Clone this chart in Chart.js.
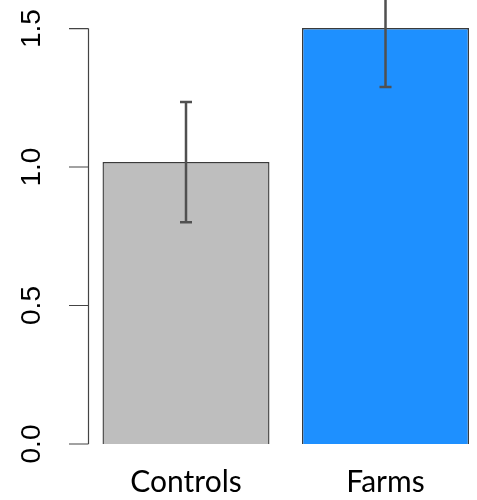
<!DOCTYPE html>
<html>
<head>
<meta charset="utf-8">
<script src="https://cdn.jsdelivr.net/npm/chart.js@4/dist/chart.umd.min.js"></script>
<style>
  html, body { margin: 0; padding: 0; background: #fff; }
  #wrap { width: 477px; height: 500px; }
</style>
</head>
<body>
<div id="wrap"><canvas id="barChart"></canvas></div>
<script>
// values
const categories = ["Controls", "Farms"];
const means = [1.018, 1.502];
const errLow = [0.801, 1.289];
const errHigh = [1.235, 1.715];
const yTicks = [0, 0.5, 1.0, 1.5];

// error bars (whiskers with caps)
const errorBars = {
    id: "errorBars",
    afterDatasetsDraw(chart) {
        const ctx = chart.ctx;
        const x = chart.scales.x;
        const y = chart.scales.y;
        ctx.save();
        ctx.strokeStyle = "#505050";
        ctx.lineWidth = 2.5;
        categories.forEach((c, i) => {
            let px = x.getPixelForValue(i + 1);
            let lo = y.getPixelForValue(errLow[i]);
            let hi = y.getPixelForValue(errHigh[i]);
            ctx.beginPath();
            ctx.moveTo(px, lo);
            ctx.lineTo(px, hi);
            ctx.moveTo(px - 6, lo);
            ctx.lineTo(px + 6, lo);
            ctx.moveTo(px - 6, hi);
            ctx.lineTo(px + 6, hi);
            ctx.stroke();
        });
        ctx.restore();
    }
};

// R-style left axis: line only over the tick range, rotated labels
const rAxis = {
    id: "rAxis",
    afterDraw(chart) {
        const ctx = chart.ctx;
        const y = chart.scales.y;
        const ax = 88.5;
        ctx.save();
        ctx.strokeStyle = "#444";
        ctx.lineWidth = 1.2;
        ctx.beginPath();
        ctx.moveTo(ax, y.getPixelForValue(yTicks[0]));
        ctx.lineTo(ax, y.getPixelForValue(yTicks[yTicks.length - 1]));
        yTicks.forEach(t => {
            let py = y.getPixelForValue(t);
            ctx.moveTo(69, py);
            ctx.lineTo(ax, py);
        });
        ctx.stroke();

        ctx.fillStyle = "#000";
        ctx.font = "28px 'Liberation Sans', Arial, sans-serif";
        ctx.textAlign = "center";
        ctx.textBaseline = "middle";
        yTicks.forEach(t => {
            let py = y.getPixelForValue(t);
            ctx.save();
            ctx.translate(32, py);
            ctx.rotate(-Math.PI / 2);
            ctx.fillText(t.toFixed(1), 0, 0);
            ctx.restore();
        });
        ctx.restore();
    }
};

new Chart(document.getElementById("barChart"), {
    type: "bar",
    data: {
        datasets: [{
            data: means.map((m, i) => ({ x: i + 1, y: m })),
            backgroundColor: ["#bebebe", "#1e90ff"],
            borderColor: "#3a3a3a",
            borderWidth: 1.4,
            barPercentage: 0.837,
            categoryPercentage: 1
        }]
    },
    options: {
        responsive: true,
        maintainAspectRatio: false,
        animation: false,
        layout: { padding: { left: 89, right: 0, top: 0, bottom: 0 } },
        plugins: {
            legend: { display: false },
            tooltip: { enabled: false }
        },
        scales: {
            x: {
                type: "linear",
                offset: false,
                min: 0.5138,
                max: 2.4586,
                grid: { display: false, drawTicks: false, offset: false },
                border: { display: false },
                afterBuildTicks: s => {
                    s.ticks = categories.map((c, i) => ({ value: i + 1 }));
                },
                afterFit: s => { s.height = 56; },
                ticks: {
                    padding: 20,
                    color: "#000",
                    font: { family: "Lato", size: 30 },
                    callback: v => categories[v - 1]
                }
            },
            y: {
                display: false,
                min: 0,
                max: 1.603
            }
        }
    },
    plugins: [errorBars, rAxis]
});
</script>
</body>
</html>
